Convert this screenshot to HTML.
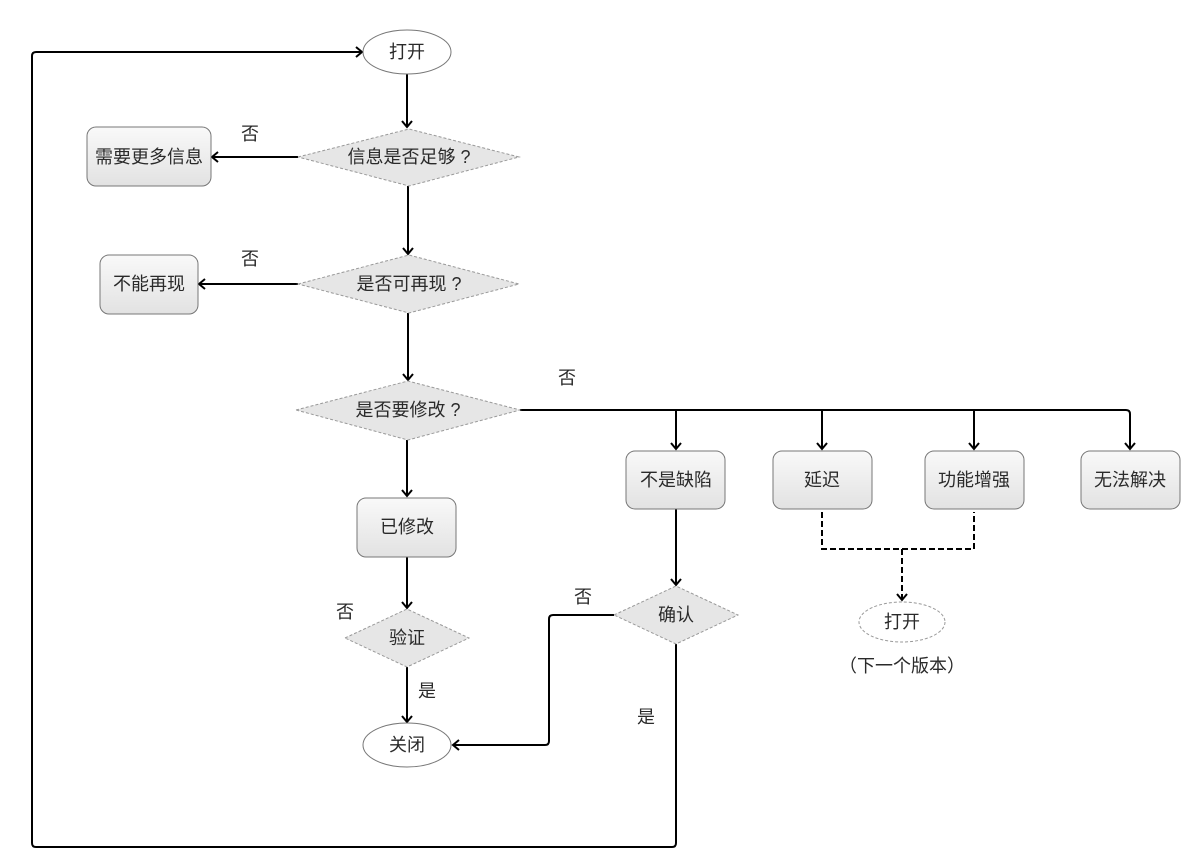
<!DOCTYPE html>
<html><head><meta charset="utf-8"><style>
body{margin:0;background:#fff}
svg{display:block}
text{font-family:"Liberation Sans","Noto Sans CJK SC",sans-serif;font-size:18px;fill:#2a2a2a;text-anchor:middle;dominant-baseline:central}
</style></head><body>
<svg width="1181" height="850" viewBox="0 0 1181 850">
<defs>
<linearGradient id="g" x1="0" y1="0" x2="0" y2="1"><stop offset="0" stop-color="#f9f9f9"/><stop offset="1" stop-color="#e2e2e2"/></linearGradient>
<marker id="a" markerWidth="12" markerHeight="12" refX="9" refY="6" orient="auto" markerUnits="userSpaceOnUse"><path d="M3,1 L9,6 L3,11" fill="none" stroke="#000" stroke-width="2"/></marker>
</defs>
<g fill="none" stroke="#000" stroke-width="2">
<path d="M407,74 V127" marker-end="url(#a)"/>
<path d="M298,157 H212" marker-end="url(#a)"/>
<path d="M408,186 V254" marker-end="url(#a)"/>
<path d="M298,284 H199" marker-end="url(#a)"/>
<path d="M408,313 V380" marker-end="url(#a)"/>
<path d="M407,440 V496" marker-end="url(#a)"/>
<path d="M407,557 V608" marker-end="url(#a)"/>
<path d="M407,667 V722" marker-end="url(#a)"/>
<path d="M520,410 H1126 Q1130,410 1130,414 V449" marker-end="url(#a)"/>
<path d="M676,410 V449" marker-end="url(#a)"/>
<path d="M822,410 V449" marker-end="url(#a)"/>
<path d="M974,410 V449" marker-end="url(#a)"/>
<path d="M676,509 V585" marker-end="url(#a)"/>
<path d="M614,615 H553 Q549,615 549,619 V741 Q549,745 545,745 H453" marker-end="url(#a)"/>
<path d="M676,644 V843 Q676,847 672,847 H36 Q32,847 32,843 V56 Q32,52 36,52 H362" marker-end="url(#a)"/>
<path d="M822,512 V549 H974 V512" stroke-dasharray="6,3"/>
<path d="M902,549 V600" stroke-dasharray="6,3" marker-end="url(#a)"/>
</g>
<g stroke="#777" stroke-width="1">
<ellipse cx="407" cy="52" rx="44" ry="22" fill="#fff"/>
<ellipse cx="407" cy="745" rx="44" ry="22" fill="#fff"/>
<ellipse cx="902" cy="622" rx="43" ry="20" fill="#fff" stroke="#999" stroke-dasharray="3,2"/>
<g fill="url(#g)">
<rect x="87" y="127" width="124" height="59" rx="9"/>
<rect x="100" y="255" width="98" height="59" rx="9"/>
<rect x="357" y="498" width="99" height="59" rx="9"/>
<rect x="626" y="451" width="99" height="58" rx="9"/>
<rect x="773" y="451" width="99" height="58" rx="9"/>
<rect x="925" y="451" width="99" height="58" rx="9"/>
<rect x="1081" y="451" width="99" height="58" rx="9"/>
</g>
<g fill="#e6e6e6" stroke="#999" stroke-dasharray="3,2">
<path d="M298,157 L409,129 L519,157 L409,186 Z"/>
<path d="M298,284 L409,255 L519,284 L409,313 Z"/>
<path d="M296,410 L408,381 L520,410 L408,440 Z"/>
<path d="M345,638 L407,609 L469,638 L407,667 Z"/>
<path d="M614,615 L676,586 L738,615 L676,644 Z"/>
</g>
</g>
<text x="407" y="52">打开</text>
<text x="409" y="157">信息是否足够 ?</text>
<text x="149" y="157">需要更多信息</text>
<text x="409" y="284">是否可再现 ?</text>
<text x="149" y="284">不能再现</text>
<text x="408" y="410">是否要修改 ?</text>
<text x="407" y="527">已修改</text>
<text x="407" y="638">验证</text>
<text x="407" y="745">关闭</text>
<text x="676" y="480">不是缺陷</text>
<text x="822" y="480">延迟</text>
<text x="974" y="480">功能增强</text>
<text x="1130" y="480">无法解决</text>
<text x="676" y="615">确认</text>
<text x="902" y="622">打开</text>
<text x="902" y="666">（下一个版本）</text>
<text x="250" y="134">否</text>
<text x="250" y="259">否</text>
<text x="567" y="378">否</text>
<text x="345" y="612">否</text>
<text x="583" y="597">否</text>
<text x="427" y="691">是</text>
<text x="646" y="717">是</text>
</svg>
</body></html>
